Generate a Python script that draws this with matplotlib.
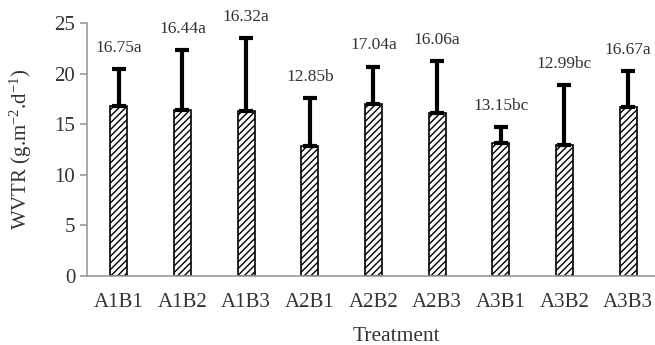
import matplotlib
matplotlib.use("Agg")
import matplotlib.pyplot as plt

treatments = ["A1B1", "A1B2", "A1B3", "A2B1", "A2B2", "A2B3", "A3B1", "A3B2", "A3B3"]
wvtr = [16.75, 16.44, 16.32, 12.85, 17.04, 16.06, 13.15, 12.99, 16.67]
errors = [3.7, 5.85, 7.2, 4.75, 3.65, 5.15, 1.6, 5.9, 3.6]
letters = ["a", "a", "a", "b", "a", "a", "bc", "bc", "a"]
yticks = [0, 5, 10, 15, 20, 25]

plt.rcParams['font.family'] = ['Liberation Serif', 'DejaVu Serif']
plt.rcParams['mathtext.fontset'] = 'custom'
plt.rcParams['mathtext.rm'] = 'Liberation Serif'
plt.rcParams['mathtext.it'] = 'Liberation Serif:italic'
plt.rcParams['hatch.linewidth'] = 1.0

txt = "#333333"
fig = plt.figure(figsize=(6.55, 3.45), dpi=100)
ax = fig.add_axes([87/655, 69/345, 573/655, 253/345])

x = list(range(len(treatments)))
ax.bar(x, wvtr, width=0.27, color="white", edgecolor="black", hatch="/////",
       linewidth=1.2, zorder=2)
ax.errorbar(x, wvtr, yerr=[[0]*len(errors), errors], fmt="none", ecolor="black",
            elinewidth=3, capsize=5, capthick=3, zorder=3)
for xi, v, e, l in zip(x, wvtr, errors, letters):
    ax.text(xi, v + e + 1.3, f"{v:.2f}{l}", ha="center", va="bottom",
            fontsize=12.5, color=txt)

ax.set_xlim(-0.5, 8.5)
ax.set_ylim(0, 25)
ax.set_yticks(yticks)
ax.set_xticks(x)
ax.set_xticklabels(treatments, fontsize=15, color=txt)
ax.tick_params(axis="y", labelsize=15, labelcolor=txt, length=5, color="#999999", width=1.2)
ax.tick_params(axis="x", length=0, pad=12)
for s in ["top", "right"]:
    ax.spines[s].set_visible(False)
for s in ["left", "bottom"]:
    ax.spines[s].set_color("#999999")
    ax.spines[s].set_linewidth(1.2)
ax.set_ylabel("WVTR (g.m$^{\\mathregular{-2}}$.d$^{\\mathregular{-1}}$)", fontsize=15, color=txt)
ax.yaxis.set_label_coords(-0.093, 0.5)
ax.set_xlabel("Treatment", fontsize=15.5, color=txt)
ax.xaxis.set_label_coords((396-87)/573, -0.2)

fig.savefig("out.png", dpi=100)
